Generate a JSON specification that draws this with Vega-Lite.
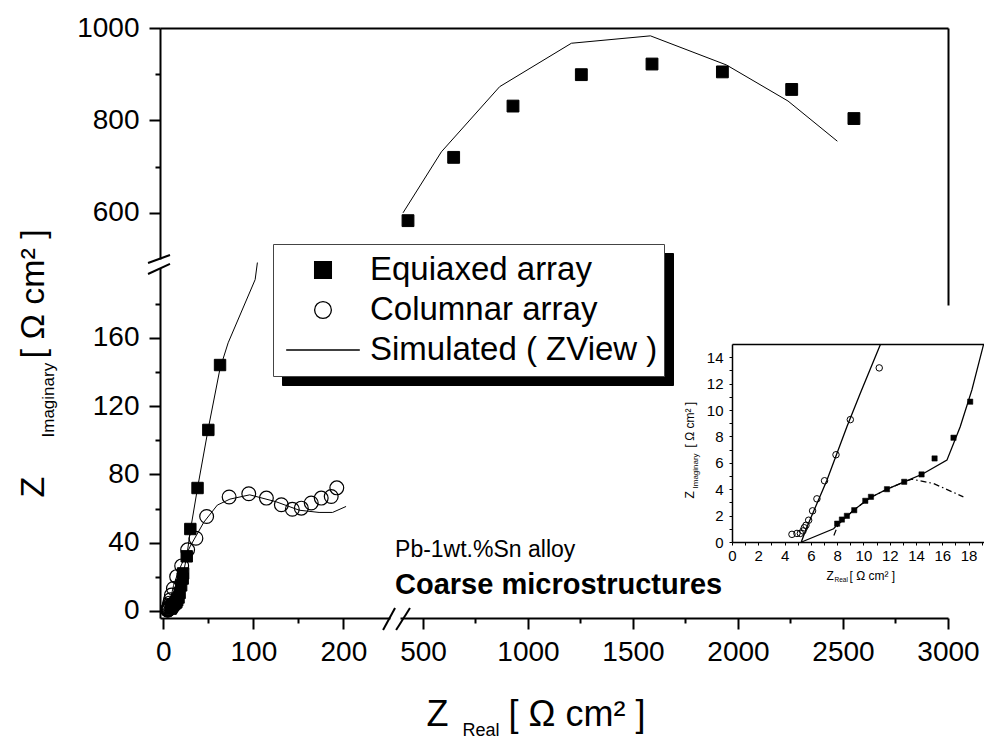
{
"$schema": "https://vega.github.io/schema/vega-lite/v6.json",
"width": 788,
"height": 590,
"autosize": {"type": "none"},
"padding": {"left": 160, "top": 28, "right": 36, "bottom": 121},
"background": "white",
"config": {
  "view": {"stroke": null},
  "font": "Liberation Sans",
  "axis": {"grid": false, "domainColor": "black", "domainWidth": 2, "tickColor": "black", "tickWidth": 2, "tickSize": 11,
    "labelColor": "black", "labelFont": "Liberation Sans", "labelFontSize": 28, "labelOverlap": false, "labelFlush": false, "labelPadding": 9,
    "titleColor": "black", "titleFont": "Liberation Sans", "titleFontWeight": "normal", "titleAlign": "left", "titleBaseline": "alphabetic", "titlePadding": 0},
  "legend": {"labelFont": "Liberation Sans", "labelColor": "black"}
},
"datasets": {
  "bl_columnar": [
    {"series": "Columnar array", "x": 4.6, "y": 0.6}, {"series": "Columnar array", "x": 4.9, "y": 0.65}, {"series": "Columnar array", "x": 5.2, "y": 0.65},
    {"series": "Columnar array", "x": 5.4, "y": 0.85}, {"series": "Columnar array", "x": 5.5, "y": 1.1}, {"series": "Columnar array", "x": 5.6, "y": 1.3},
    {"series": "Columnar array", "x": 5.8, "y": 1.65}, {"series": "Columnar array", "x": 6.1, "y": 2.35}, {"series": "Columnar array", "x": 6.5, "y": 3.3},
    {"series": "Columnar array", "x": 7.0, "y": 4.6}, {"series": "Columnar array", "x": 7.9, "y": 6.6}, {"series": "Columnar array", "x": 9.0, "y": 9.3},
    {"series": "Columnar array", "x": 11.2, "y": 13.2}, {"series": "Columnar array", "x": 14.8, "y": 20.1}, {"series": "Columnar array", "x": 20.4, "y": 26.4},
    {"series": "Columnar array", "x": 27, "y": 35.8}, {"series": "Columnar array", "x": 36.2, "y": 42.6}, {"series": "Columnar array", "x": 48.1, "y": 55.3},
    {"series": "Columnar array", "x": 73.1, "y": 66.7}, {"series": "Columnar array", "x": 94.9, "y": 68.6}, {"series": "Columnar array", "x": 114.5, "y": 66.1},
    {"series": "Columnar array", "x": 131.1, "y": 62.2}, {"series": "Columnar array", "x": 143.3, "y": 59.6}, {"series": "Columnar array", "x": 153.3, "y": 60.2},
    {"series": "Columnar array", "x": 164.3, "y": 63.2}, {"series": "Columnar array", "x": 175.4, "y": 66.1}, {"series": "Columnar array", "x": 186.5, "y": 67},
    {"series": "Columnar array", "x": 192.7, "y": 72.1}
  ],
  "bl_equiaxed": [
    {"series": "Equiaxed array", "x": 8.0, "y": 1.4}, {"series": "Equiaxed array", "x": 8.4, "y": 1.7}, {"series": "Equiaxed array", "x": 8.7, "y": 2.0},
    {"series": "Equiaxed array", "x": 9.3, "y": 2.4}, {"series": "Equiaxed array", "x": 10.1, "y": 3.1}, {"series": "Equiaxed array", "x": 10.6, "y": 3.4},
    {"series": "Equiaxed array", "x": 11.8, "y": 4.0}, {"series": "Equiaxed array", "x": 13.1, "y": 4.6}, {"series": "Equiaxed array", "x": 14.4, "y": 5.1},
    {"series": "Equiaxed array", "x": 15.4, "y": 6.3}, {"series": "Equiaxed array", "x": 16.9, "y": 7.9}, {"series": "Equiaxed array", "x": 18.1, "y": 10.6},
    {"series": "Equiaxed array", "x": 19.8, "y": 15}, {"series": "Equiaxed array", "x": 21.5, "y": 19}, {"series": "Equiaxed array", "x": 22, "y": 22},
    {"series": "Equiaxed array", "x": 26, "y": 32}, {"series": "Equiaxed array", "x": 30, "y": 48}, {"series": "Equiaxed array", "x": 38, "y": 72},
    {"series": "Equiaxed array", "x": 50, "y": 106}, {"series": "Equiaxed array", "x": 63, "y": 144}
  ],
  "bl_lines": [
    {"curve": "eq", "x": 5.3, "y": 0}, {"curve": "eq", "x": 7.7, "y": 1.0}, {"curve": "eq", "x": 9.3, "y": 2.45}, {"curve": "eq", "x": 10.5, "y": 3.35},
    {"curve": "eq", "x": 11.8, "y": 4.0}, {"curve": "eq", "x": 13.1, "y": 4.55}, {"curve": "eq", "x": 14.5, "y": 5.15}, {"curve": "eq", "x": 16.35, "y": 6.2},
    {"curve": "eq", "x": 17.4, "y": 8.7}, {"curve": "eq", "x": 18.25, "y": 11.5}, {"curve": "eq", "x": 19.5, "y": 15.5}, {"curve": "eq", "x": 22, "y": 21.5},
    {"curve": "eq", "x": 26, "y": 32}, {"curve": "eq", "x": 30, "y": 47}, {"curve": "eq", "x": 38, "y": 72}, {"curve": "eq", "x": 50, "y": 107},
    {"curve": "eq", "x": 63, "y": 142}, {"curve": "eq", "x": 72, "y": 157}, {"curve": "eq", "x": 102, "y": 194}, {"curve": "eq", "x": 104.5, "y": 204},
    {"curve": "col", "x": 5.3, "y": 0}, {"curve": "col", "x": 5.7, "y": 1.1}, {"curve": "col", "x": 7.2, "y": 4.7}, {"curve": "col", "x": 8.7, "y": 8.7},
    {"curve": "col", "x": 9.8, "y": 11.3}, {"curve": "col", "x": 11.3, "y": 14.9}, {"curve": "col", "x": 15, "y": 20.5}, {"curve": "col", "x": 20, "y": 27},
    {"curve": "col", "x": 30, "y": 38}, {"curve": "col", "x": 45, "y": 52}, {"curve": "col", "x": 60, "y": 62}, {"curve": "col", "x": 74, "y": 65.5},
    {"curve": "col", "x": 96, "y": 68}, {"curve": "col", "x": 125, "y": 64}, {"curve": "col", "x": 151, "y": 59}, {"curve": "col", "x": 173, "y": 57.7},
    {"curve": "col", "x": 188, "y": 57.7}, {"curve": "col", "x": 203, "y": 61.2}
  ],
  "breaks": [
    {"x": -17, "y": 203.7, "x2": 7.4, "y2": 208.4},
    {"x": -17, "y": 197.3, "x2": 7.4, "y2": 203.2},
    {"x": 244.1, "y": -11.1, "x2": 257.4, "y2": 1.8},
    {"x": 258.6, "y": -11.1, "x2": 274, "y2": 1.8}
  ],
  "note_regular": [{"x": 257.4, "y": 35.7, "label": "Pb-1wt.%Sn alloy"}],
  "note_bold": [{"x": 257.4, "y": 15.2, "label": "Coarse microstructures"}],
  "tr_points": [
    {"series": "Equiaxed array", "x": 428.6, "y": 583}, {"series": "Equiaxed array", "x": 646, "y": 720},
    {"series": "Equiaxed array", "x": 928.6, "y": 831}, {"series": "Equiaxed array", "x": 1254, "y": 899},
    {"series": "Equiaxed array", "x": 1590.5, "y": 922}, {"series": "Equiaxed array", "x": 1925.7, "y": 905},
    {"series": "Equiaxed array", "x": 2255.7, "y": 867}, {"series": "Equiaxed array", "x": 2552, "y": 804}
  ],
  "tr_line": [
    {"x": 405, "y": 600}, {"x": 587.6, "y": 732}, {"x": 865, "y": 873}, {"x": 1206.7, "y": 967},
    {"x": 1583, "y": 983}, {"x": 1945, "y": 920}, {"x": 2238, "y": 842}, {"x": 2473, "y": 755}
  ],
  "in_columnar": [
    {"series": "Columnar array", "x": 4.56, "y": 0.58}, {"series": "Columnar array", "x": 4.94, "y": 0.65}, {"series": "Columnar array", "x": 5.2, "y": 0.65},
    {"series": "Columnar array", "x": 5.4, "y": 0.84}, {"series": "Columnar array", "x": 5.5, "y": 1.08}, {"series": "Columnar array", "x": 5.63, "y": 1.27},
    {"series": "Columnar array", "x": 5.83, "y": 1.65}, {"series": "Columnar array", "x": 6.13, "y": 2.36}, {"series": "Columnar array", "x": 6.46, "y": 3.27},
    {"series": "Columnar array", "x": 7.04, "y": 4.64}, {"series": "Columnar array", "x": 7.91, "y": 6.61}, {"series": "Columnar array", "x": 9.0, "y": 9.27},
    {"series": "Columnar array", "x": 11.2, "y": 13.19}
  ],
  "in_equiaxed": [
    {"series": "Equiaxed array", "x": 8.0, "y": 1.39}, {"series": "Equiaxed array", "x": 8.36, "y": 1.7}, {"series": "Equiaxed array", "x": 8.74, "y": 1.98},
    {"series": "Equiaxed array", "x": 9.3, "y": 2.41}, {"series": "Equiaxed array", "x": 10.14, "y": 3.12}, {"series": "Equiaxed array", "x": 10.57, "y": 3.42},
    {"series": "Equiaxed array", "x": 11.79, "y": 4.0}, {"series": "Equiaxed array", "x": 13.1, "y": 4.56}, {"series": "Equiaxed array", "x": 14.42, "y": 5.12},
    {"series": "Equiaxed array", "x": 15.41, "y": 6.33}, {"series": "Equiaxed array", "x": 16.85, "y": 7.9}, {"series": "Equiaxed array", "x": 18.12, "y": 10.63}
  ],
  "in_lines": [
    {"curve": "col", "x": 5.27, "y": 0}, {"curve": "col", "x": 5.7, "y": 1.14}, {"curve": "col", "x": 7.22, "y": 4.68},
    {"curve": "col", "x": 8.74, "y": 8.73}, {"curve": "col", "x": 9.76, "y": 11.27}, {"curve": "col", "x": 11.28, "y": 14.94},
    {"curve": "eq", "x": 5.3, "y": 0}, {"curve": "eq", "x": 7.73, "y": 1.0}, {"curve": "eq", "x": 8.0, "y": 1.3}, {"curve": "eq", "x": 9.3, "y": 2.45},
    {"curve": "eq", "x": 10.5, "y": 3.35}, {"curve": "eq", "x": 11.8, "y": 4.0}, {"curve": "eq", "x": 13.1, "y": 4.55}, {"curve": "eq", "x": 14.5, "y": 5.15},
    {"curve": "eq", "x": 16.35, "y": 6.2}, {"curve": "eq", "x": 17.36, "y": 8.73}, {"curve": "eq", "x": 18.25, "y": 11.52}, {"curve": "eq", "x": 19.13, "y": 14.94}
  ],
  "in_dash": [
    {"x": 7.75, "y": 0.5}, {"x": 8.1, "y": 1.35}, {"x": 9.3, "y": 2.45}, {"x": 10.5, "y": 3.35}, {"x": 11.8, "y": 4.0},
    {"x": 13.1, "y": 4.55}, {"x": 13.69, "y": 4.76}, {"x": 15.33, "y": 4.43}, {"x": 17.6, "y": 3.42}
  ]
},
"resolve": {"scale": {"x": "independent", "y": "independent"}},
"layer": [
  {
    "data": {"values": []},
    "mark": {"type": "point"},
    "encoding": {
      "x": {"field": "fx", "type": "quantitative", "scale": {"domain": [0, 1], "range": [0, 788], "nice": false, "zero": false},
        "axis": {"orient": "top", "ticks": false, "labels": false, "title": "[ Ω cm² ]", "titleFontSize": 36, "titleX": 348, "titleY": 697, "titleAngle": 0}},
      "y": {"field": "fy", "type": "quantitative", "scale": {"domain": [0, 1], "range": [0, 277], "nice": false, "zero": false},
        "axis": {"orient": "right", "ticks": false, "labels": false, "title": "[ Ω cm² ]", "titleFontSize": 34, "titleAngle": -90, "titleX": -905, "titleY": 330}},
      "color": {"field": "series", "type": "nominal",
        "scale": {"domain": ["Simulated ( ZView )", "Equiaxed array", "Columnar array"], "range": ["black", "black", "black"]},
        "legend": {"orient": "none", "legendX": 122, "legendY": 225, "title": null, "fillColor": "black", "strokeColor": "black", "labelColor": "black",
          "padding": 6, "labelFontSize": 33, "labelLimit": 600, "symbolSize": 280, "symbolOffset": 27.5, "labelOffset": 318.3, "clipHeight": 40, "rowPadding": 0,
          "symbolFillColor": "black", "symbolStrokeColor": "black",
          "labelExpr": "'\u00a0'"}}
    }
  },
  {
    "layer": [
      {
        "data": {"name": "bl_columnar"},
        "mark": {"type": "point", "filled": true, "opacity": 1, "strokeWidth": 1.2, "size": 190},
        "encoding": {
          "x": {"field": "x", "type": "quantitative", "scale": {"domain": [-3.7, 251.8], "range": [0, 230], "nice": false, "zero": false},
            "axis": {"orient": "bottom", "values": [0, 50, 100, 150, 200], "format": "d", "labelExpr": "datum.value % 100 === 0 ? datum.label : ''",
              "tickSize": {"condition": {"test": "datum.value % 100 === 0", "value": 11}, "value": 5},
              "title": "Z", "titleFontSize": 36, "titleX": 266, "titleY": 107, "titleAngle": 0}},
          "y": {"field": "y", "type": "quantitative", "scale": {"domain": [-4.1, 200.8], "range": [590, 240], "nice": false, "zero": false},
            "axis": {"orient": "left", "values": [0, 20, 40, 60, 80, 100, 120, 140, 160, 180], "format": "d", "labelExpr": "datum.value % 40 === 0 ? datum.label : ''",
              "tickSize": {"condition": {"test": "datum.value % 40 === 0", "value": 11}, "value": 5}, "labelPadding": 10,
              "title": "Z", "titleFontSize": 34, "titleAngle": -90, "titleX": -117, "titleY": 469}},
          "fill": {"field": "series", "type": "nominal",
            "scale": {"domain": ["Equiaxed array", "Columnar array", "Simulated ( ZView )"], "range": ["black", "transparent", "transparent"]},
            "legend": {"orient": "none", "legendX": 113, "legendY": 216, "title": null, "fillColor": "white", "strokeColor": "#444",
              "padding": 6, "labelFontSize": 33, "labelLimit": 600, "symbolSize": 280, "symbolOffset": 27.5, "labelOffset": 30.5, "clipHeight": 40, "rowPadding": 0,
              "symbolStrokeWidth": 1.3,
              "labelExpr": "datum.label === 'Simulated ( ZView )' ? '\u00a0Simulated ( ZView )' : datum.label"}},
          "stroke": {"field": "series", "type": "nominal",
            "scale": {"domain": ["Equiaxed array", "Columnar array", "Simulated ( ZView )"], "range": ["black", "black", "black"]},
            "legend": {"orient": "none", "legendX": 113, "legendY": 216, "title": null, "fillColor": "white", "strokeColor": "#444",
              "padding": 6, "labelFontSize": 33, "labelLimit": 600, "symbolSize": 280, "symbolOffset": 27.5, "labelOffset": 30.5, "clipHeight": 40, "rowPadding": 0,
              "symbolStrokeWidth": 1.3,
              "labelExpr": "datum.label === 'Simulated ( ZView )' ? '\u00a0Simulated ( ZView )' : datum.label"}},
          "shape": {"field": "series", "type": "nominal",
            "scale": {"domain": ["Equiaxed array", "Columnar array", "Simulated ( ZView )"], "range": ["square", "circle", "M-4.4,0H4.4"]},
            "legend": {"orient": "none", "legendX": 113, "legendY": 216, "title": null, "fillColor": "white", "strokeColor": "#444",
              "padding": 6, "labelFontSize": 33, "labelLimit": 600, "symbolSize": 280, "symbolOffset": 27.5, "labelOffset": 30.5, "clipHeight": 40, "rowPadding": 0,
              "symbolStrokeWidth": 1.3,
              "labelExpr": "datum.label === 'Simulated ( ZView )' ? '\u00a0Simulated ( ZView )' : datum.label"}}
        }
      },
      {
        "data": {"name": "bl_lines"},
        "mark": {"type": "line", "color": "black", "strokeWidth": 1},
        "encoding": {"x": {"field": "x", "type": "quantitative"}, "y": {"field": "y", "type": "quantitative"}, "detail": {"field": "curve"}}
      },
      {
        "data": {"name": "bl_equiaxed"},
        "mark": {"type": "point", "filled": true, "opacity": 1, "strokeWidth": 1, "size": 130},
        "encoding": {"x": {"field": "x", "type": "quantitative"}, "y": {"field": "y", "type": "quantitative"},
          "fill": {"field": "series", "type": "nominal"}, "stroke": {"field": "series", "type": "nominal"}, "shape": {"field": "series", "type": "nominal"}}
      },
      {
        "data": {"name": "breaks"},
        "mark": {"type": "rule", "color": "black", "strokeWidth": 2},
        "encoding": {"x": {"field": "x", "type": "quantitative"}, "y": {"field": "y", "type": "quantitative"},
          "x2": {"field": "x2"}, "y2": {"field": "y2"}}
      },
      {
        "data": {"name": "note_regular"},
        "mark": {"type": "text", "align": "left", "baseline": "middle", "color": "black", "font": "Liberation Sans", "fontSize": 23},
        "encoding": {"x": {"field": "x", "type": "quantitative"}, "y": {"field": "y", "type": "quantitative"}, "text": {"field": "label"}}
      },
      {
        "data": {"name": "note_bold"},
        "mark": {"type": "text", "align": "left", "baseline": "middle", "color": "black", "font": "Liberation Sans", "fontSize": 29, "fontWeight": "bold"},
        "encoding": {"x": {"field": "x", "type": "quantitative"}, "y": {"field": "y", "type": "quantitative"}, "text": {"field": "label"}}
      }
    ]
  },
  {
    "layer": [
      {
        "data": {"name": "tr_line"},
        "mark": {"type": "line", "color": "black", "strokeWidth": 1},
        "encoding": {
          "x": {"field": "x", "type": "quantitative", "scale": {"domain": [390.5, 3000], "range": [240, 788], "nice": false, "zero": false},
            "axis": {"orient": "bottom", "values": [500, 750, 1000, 1250, 1500, 1750, 2000, 2250, 2500, 2750, 3000], "format": "d",
              "labelExpr": "datum.value % 500 === 0 ? datum.label : ''",
              "tickSize": {"condition": {"test": "datum.value % 500 === 0", "value": 11}, "value": 5},
              "title": "Real", "titleFontSize": 18, "titleX": 302, "titleY": 117, "titleAngle": 0}},
          "y": {"field": "y", "type": "quantitative", "scale": {"domain": [500, 1000], "range": [231, 0], "nice": false, "zero": false},
            "axis": {"orient": "left", "values": [600, 700, 800, 900, 1000], "format": "d", "labelExpr": "datum.value % 200 === 0 ? datum.label : ''",
              "tickSize": {"condition": {"test": "datum.value % 200 === 0", "value": 11}, "value": 5}, "labelPadding": 10,
              "title": "Imaginary", "titleFontSize": 17, "titleAngle": -90, "titleX": -107, "titleY": 409}}
        }
      },
      {
        "data": {"name": "tr_points"},
        "mark": {"type": "point", "filled": true, "opacity": 1, "strokeWidth": 1, "size": 140},
        "encoding": {"x": {"field": "x", "type": "quantitative"}, "y": {"field": "y", "type": "quantitative"},
          "fill": {"field": "series", "type": "nominal"}, "stroke": {"field": "series", "type": "nominal"}, "shape": {"field": "series", "type": "nominal"}}
      }
    ]
  },
  {
    "layer": [
      {
        "data": {"name": "in_lines"},
        "mark": {"type": "line", "color": "black", "strokeWidth": 1.3},
        "encoding": {
          "x": {"field": "x", "type": "quantitative", "scale": {"domain": [0, 19.17], "range": [572, 824], "nice": false, "zero": false},
            "axis": {"orient": "bottom", "offset": -76, "values": [0, 1, 2, 3, 4, 5, 6, 7, 8, 9, 10, 11, 12, 13, 14, 15, 16, 17, 18, 19], "format": "d",
              "labelExpr": "datum.value % 2 === 0 ? datum.label : ''", "tickSize": 3, "tickWidth": 1, "domainWidth": 1.5,
              "labelFontSize": 15, "labelPadding": 3,
              "title": "Z", "titleFontSize": 12, "titleX": 666, "titleY": 37, "titleAngle": 0}},
          "y": {"field": "y", "type": "quantitative", "scale": {"domain": [0, 15], "range": [514, 316], "nice": false, "zero": false},
            "axis": {"orient": "left", "offset": -572, "values": [0, 1, 2, 3, 4, 5, 6, 7, 8, 9, 10, 11, 12, 13, 14], "format": "d",
              "labelExpr": "datum.value % 2 === 0 ? datum.label : ''", "tickSize": 3, "tickWidth": 1, "domainWidth": 1.5,
              "labelFontSize": 15, "labelPadding": 6,
              "title": "Z", "titleFontSize": 12, "titleAngle": -90, "titleX": -39, "titleY": 470}},
          "detail": {"field": "curve"}
        }
      },
      {
        "data": {"name": "in_dash"},
        "mark": {"type": "line", "color": "black", "strokeWidth": 1.2, "strokeDash": [6, 3, 1.5, 3]},
        "encoding": {"x": {"field": "x", "type": "quantitative"}, "y": {"field": "y", "type": "quantitative"}}
      },
      {
        "data": {"name": "in_columnar"},
        "mark": {"type": "point", "filled": true, "opacity": 1, "strokeWidth": 1, "size": 42},
        "encoding": {"x": {"field": "x", "type": "quantitative"}, "y": {"field": "y", "type": "quantitative"},
          "fill": {"field": "series", "type": "nominal"}, "stroke": {"field": "series", "type": "nominal"}, "shape": {"field": "series", "type": "nominal"}}
      },
      {
        "data": {"name": "in_equiaxed"},
        "mark": {"type": "point", "filled": true, "opacity": 1, "strokeWidth": 0.5, "size": 28},
        "encoding": {"x": {"field": "x", "type": "quantitative"}, "y": {"field": "y", "type": "quantitative"},
          "fill": {"field": "series", "type": "nominal"}, "stroke": {"field": "series", "type": "nominal"}, "shape": {"field": "series", "type": "nominal"}}
      }
    ]
  },
  {
    "data": {"values": []},
    "mark": {"type": "point"},
    "encoding": {
      "x": {"field": "fx", "type": "quantitative", "scale": {"domain": [0, 1], "range": [572, 824], "nice": false, "zero": false},
        "axis": {"orient": "top", "offset": -316, "ticks": false, "labels": false, "domainWidth": 1.5,
          "title": "Real", "titleFontSize": 6.5, "titleX": 674, "titleY": 237, "titleAngle": 0}},
      "y": {"field": "fy", "type": "quantitative", "scale": {"domain": [0, 1], "range": [514, 316], "nice": false, "zero": false},
        "axis": {"orient": "left", "domain": false, "ticks": false, "labels": false,
          "title": "Imaginary", "titleFontSize": 8, "titleAngle": -90, "titleX": 537, "titleY": 460}}
    }
  },
  {
    "data": {"values": []},
    "mark": {"type": "point"},
    "encoding": {
      "x": {"field": "fx", "type": "quantitative", "scale": {"domain": [0, 1], "range": [0, 788], "nice": false, "zero": false},
        "axis": {"orient": "bottom", "domain": false, "ticks": false, "labels": false,
          "title": "[ Ω cm² ]", "titleFontSize": 12, "titleX": 689, "titleY": -39, "titleAngle": 0}},
      "y": {"field": "fy", "type": "quantitative", "scale": {"domain": [0, 1], "range": [590, 0], "nice": false, "zero": false},
        "axis": {"orient": "left", "domain": false, "ticks": false, "labels": false,
          "title": "[ Ω cm² ]", "titleFontSize": 12, "titleAngle": -90, "titleX": 533, "titleY": 419}}
    }
  }
]
}
